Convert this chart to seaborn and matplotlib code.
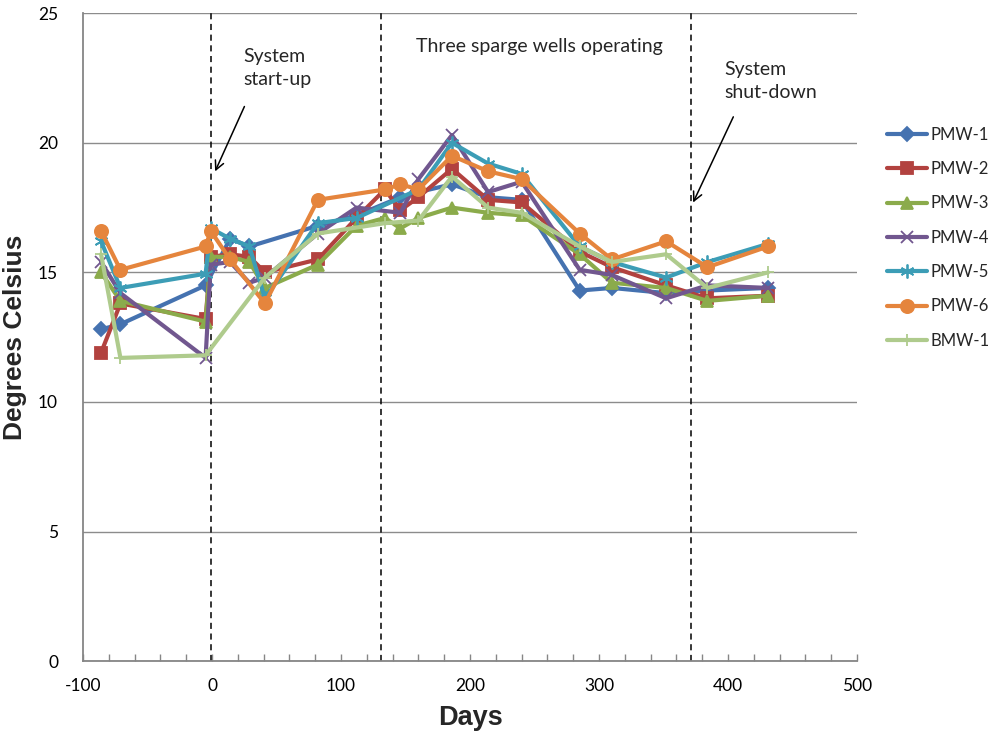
import matplotlib
matplotlib.use("Agg")
import matplotlib.pyplot as plt
from matplotlib.ticker import MultipleLocator
import seaborn as sns
import pandas as pd

# ---- data ----
wells = ["PMW-1", "PMW-2", "PMW-3", "PMW-4", "PMW-5", "PMW-6", "BMW-1"]

pmw1_days = [-86, -71, -5, 14, 29, 82, 112, 146, 160, 186, 214, 240, 285, 310, 352, 384, 431]
pmw1_temp = [12.8, 13.0, 14.5, 16.3, 16.0, 16.8, 17.2, 17.9, 18.1, 18.4, 17.9, 17.8, 14.3, 14.4, 14.2, 14.3, 14.4]

pmw2_days = [-86, -71, -5, -1, 14, 29, 41, 82, 112, 134, 146, 160, 186, 214, 240, 285, 310, 352, 384, 431]
pmw2_temp = [11.9, 13.8, 13.2, 15.6, 15.7, 15.6, 15.0, 15.5, 17.1, 18.2, 17.4, 17.9, 19.0, 17.8, 17.7, 15.8, 15.2, 14.5, 14.0, 14.1]

pmw3_days = [-86, -71, -5, -1, 14, 29, 41, 82, 112, 134, 146, 160, 186, 214, 240, 285, 310, 352, 384, 431]
pmw3_temp = [15.0, 13.9, 13.1, 15.6, 15.6, 15.4, 14.4, 15.3, 16.8, 17.1, 16.7, 17.1, 17.5, 17.3, 17.2, 15.7, 14.6, 14.4, 13.9, 14.1]

pmw4_days = [-86, -71, -5, -1, 14, 29, 41, 82, 112, 146, 160, 186, 214, 240, 285, 310, 352, 384, 431]
pmw4_temp = [15.4, 14.2, 11.7, 15.3, 15.4, 14.6, 14.8, 16.5, 17.5, 17.3, 18.6, 20.3, 18.1, 18.5, 15.1, 14.9, 14.0, 14.5, 14.4]

pmw5_days = [-86, -71, -5, -1, 14, 29, 41, 82, 112, 160, 186, 214, 240, 285, 310, 352, 384, 431]
pmw5_temp = [16.2, 14.4, 14.95, 16.7, 16.3, 16.0, 14.0, 16.9, 17.1, 18.2, 20.0, 19.2, 18.8, 16.0, 15.4, 14.8, 15.4, 16.1]

pmw6_days = [-86, -71, -5, -1, 14, 41, 82, 134, 146, 160, 186, 214, 240, 285, 310, 352, 384, 431]
pmw6_temp = [16.6, 15.1, 16.0, 16.6, 15.5, 13.8, 17.8, 18.2, 18.4, 18.2, 19.5, 18.9, 18.6, 16.5, 15.5, 16.2, 15.2, 16.0]

bmw1_days = [-86, -71, -5, 41, 82, 134, 160, 186, 214, 240, 285, 310, 352, 384, 431]
bmw1_temp = [15.7, 11.7, 11.8, 14.8, 16.5, 16.9, 17.0, 18.7, 17.5, 17.3, 16.0, 15.4, 15.7, 14.4, 15.0]

event_days = [-1, 131, 371]

x_ticks = [-100, 0, 100, 200, 300, 400, 500]
y_ticks = [0, 5, 10, 15, 20, 25]

# ---- build long table ----
series = {
    "PMW-1": (pmw1_days, pmw1_temp),
    "PMW-2": (pmw2_days, pmw2_temp),
    "PMW-3": (pmw3_days, pmw3_temp),
    "PMW-4": (pmw4_days, pmw4_temp),
    "PMW-5": (pmw5_days, pmw5_temp),
    "PMW-6": (pmw6_days, pmw6_temp),
    "BMW-1": (bmw1_days, bmw1_temp),
}
rows = []
for w in wells:
    d, t = series[w]
    for a, b in zip(d, t):
        rows.append({"Days": a, "Temp": b, "Well": w})
df = pd.DataFrame(rows)

palette = {
    "PMW-1": "#4572B0",
    "PMW-2": "#B2423F",
    "PMW-3": "#8BAB4B",
    "PMW-4": "#71578F",
    "PMW-5": "#3C9DB6",
    "PMW-6": "#E5853D",
    "BMW-1": "#AFCB8D",
}
markers = {
    "PMW-1": "D",
    "PMW-2": "s",
    "PMW-3": "^",
    "PMW-4": "x",
    "PMW-5": (6, 2, 0),
    "PMW-6": "o",
    "BMW-1": "+",
}
msize = {"PMW-1": 7, "PMW-2": 8, "PMW-3": 8.5, "PMW-4": 8, "PMW-5": 10, "PMW-6": 9.5, "BMW-1": 9}

sns.set_theme(style="white")
plt.rcParams["font.family"] = ["Lato", "DejaVu Sans"]
plt.rcParams["axes.unicode_minus"] = False

fig = plt.figure(figsize=(9.93, 7.37), dpi=100)
ax = fig.add_axes([0.0836, 0.103, 0.7795, 0.879])

for w in wells:
    sub = df[df["Well"] == w]
    sns.lineplot(data=sub, x="Days", y="Temp", color=palette[w], marker=markers[w],
                 markersize=msize[w], markeredgecolor=palette[w], markerfacecolor=palette[w],
                 markeredgewidth=1.3, estimator=None, sort=False,
                 linewidth=2.5, ax=ax, label=w)

# event dashed lines
for d in event_days:
    ax.axvline(d, ymin=0, ymax=1, color="black", linestyle=(0, (4, 3)), linewidth=1.1, zorder=1)

ax.set_xlim(-100, 500)
ax.set_ylim(0, 25)
ax.set_xticks(x_ticks)
ax.set_yticks(y_ticks)
ax.xaxis.set_minor_locator(MultipleLocator(20))
ax.yaxis.grid(True, color="#8C8C8C", linewidth=1.0)
ax.xaxis.grid(False)
ax.set_axisbelow(True)
for s in ["top", "right"]:
    ax.spines[s].set_visible(False)
for s in ["left", "bottom"]:
    ax.spines[s].set_color("#868686")
    ax.spines[s].set_linewidth(1.3)
ax.tick_params(axis="x", which="both", direction="in", length=5, width=1, color="#868686",
               bottom=True, labelsize=12.5, pad=12, labelcolor="black")
ax.tick_params(axis="y", which="both", length=0, labelsize=12.5, pad=18, labelcolor="black")

ax.set_xlabel("Days", fontsize=19.5, fontweight="bold", family=["Liberation Sans", "DejaVu Sans"], labelpad=8)
ax.set_ylabel("Degrees Celsius", fontsize=19, fontweight="bold", family=["Liberation Sans", "DejaVu Sans"], labelpad=8)

# annotations
ax.text(24, 23.65, "System\nstart-up", fontsize=14, va="top", ha="left", linespacing=1.4)
ax.text(158, 23.7, "Three sparge wells operating", fontsize=14, va="center", ha="left")
ax.text(397, 23.15, "System\nshut-down", fontsize=14, va="top", ha="left", linespacing=1.4)
ax.annotate("", xy=(1.5, 18.8), xytext=(26, 21.5),
            arrowprops=dict(arrowstyle="->", color="black", lw=1.1, mutation_scale=16))
ax.annotate("", xy=(372, 17.6), xytext=(405, 21.1),
            arrowprops=dict(arrowstyle="->", color="black", lw=1.1, mutation_scale=16))

# legend outside right
handles, labels = ax.get_legend_handles_labels()
for h in handles:
    h.set_linewidth(3)
ax.legend(handles, labels, loc="upper left", bbox_to_anchor=(1.03, 0.835), frameon=False,
          fontsize=12, handlelength=2.4, labelspacing=1.1, handletextpad=0.2,
          borderaxespad=0.0)

fig.savefig("out.png", dpi=100)
